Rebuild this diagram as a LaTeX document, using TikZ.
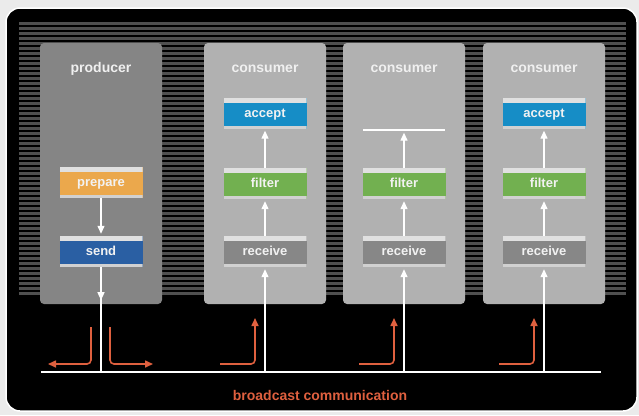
\documentclass[tikz,border=0pt]{standalone}
\usepackage{fontspec}
\setmainfont{Liberation Sans}
\usetikzlibrary{arrows.meta}
\definecolor{bgcol}{HTML}{EBEBEB}
\definecolor{stripecol}{HTML}{505050}
\definecolor{prodcol}{HTML}{858585}
\definecolor{conscol}{HTML}{B1B1B1}
\definecolor{prepcol}{HTML}{EBA84C}
\definecolor{sendcol}{HTML}{2A5FA3}
\definecolor{acccol}{HTML}{168DC6}
\definecolor{filtcol}{HTML}{72B050}
\definecolor{recvcol}{HTML}{878787}
\definecolor{castcol}{HTML}{DF603F}
\tikzstyle{panel} = [rounded corners=4pt, minimum width=122pt, minimum height=261pt, inner sep=0pt]
\tikzstyle{title} = [text=white!94!black, font=\bfseries\fontsize{14}{16}\selectfont]
\tikzstyle{stage} = [minimum width=83pt, minimum height=31pt, inner sep=0pt, text height=10pt, text depth=1.5pt,
    text=white!95!black, font=\bfseries\fontsize{13}{15}\selectfont,
    path picture={
        \fill[white!88!black] (path picture bounding box.north west) rectangle ([yshift=-5pt]path picture bounding box.north east);
        \fill[white!82!black] (path picture bounding box.south west) rectangle ([yshift=3pt]path picture bounding box.south east);
    }]
\tikzstyle{flow} = [draw=white, line width=1.3pt, -{Triangle[length=8pt,width=7pt]}, shorten >=2pt]
\tikzstyle{wire} = [draw=white, line width=1.3pt]
\tikzstyle{cast} = [draw=castcol, line width=1.6pt, rounded corners=4pt, -{Triangle[length=8pt,width=7pt]}]

\begin{document}
\begin{tikzpicture}[x=1pt,y=-1pt]
    \useasboundingbox (0,0) rectangle (639,415);
    \fill[bgcol] (0,0) rectangle (639,415);
    \draw[white, line width=1.5pt, fill=black, rounded corners=14pt] (6,8) rectangle (637,411);

    \foreach \y in {22,27,...,292}
    {
        \fill[stripecol] (19,\y) rectangle (626,\y+2.5);
    }

    \path (101,173.5) node (prod) [panel, fill=prodcol] {};
    \path (prod.north)+(0,26) node (prodtitle) [title] {producer};
    \path (101,182.5) node (prepare) [stage, fill=prepcol] {prepare};
    \path (101,251.5) node (send) [stage, fill=sendcol] {send};

    \foreach \i/\x in {1/265,2/404,3/544}
    {
        \path (\x,173.5) node (cons\i) [panel, fill=conscol] {};
        \path (cons\i.north)+(0,26) node (constitle\i) [title] {consumer};
        \path (\x,251.5) node (recv\i) [stage, fill=recvcol] {receive};
        \path (\x,183.5) node (filt\i) [stage, fill=filtcol] {filter};
        \coordinate (tap\i) at (\x,372);
    }
    \path (265,113) node (acc1) [stage, fill=acccol] {accept};
    \path (404,130) node (acc2) [minimum width=81pt, inner sep=0pt] {};
    \path (544,113) node (acc3) [stage, fill=acccol] {accept};
    \path[wire] (acc2.west) -- (acc2.east);

    % bus
    \coordinate (tap0) at (101,372);
    \coordinate (busl) at (41,372);
    \coordinate (busr) at (601,372);
    \path[wire] (busl) -- (busr);

    \path[flow] (prepare.south) -- (send.north);
    \path[wire] (send.south) -- (tap0);
    \path[flow, shorten >=0pt] (send.south) -- ([yshift=4pt]prod.south -| send.south);

    \foreach \i in {1,2,3}
    {
        \path[flow] (tap\i) -- (recv\i.south);
        \path[flow] (recv\i.north) -- (filt\i.south);
        \path[flow] (filt\i.north) -- (acc\i.south);
        \path[cast] ([xshift=-45pt,yshift=8pt]tap\i) -| ([xshift=-10pt,yshift=54pt]tap\i);
    }

    \coordinate (outl) at (48,364);
    \coordinate (outr) at (153,364);
    \path[cast] ([xshift=-10pt,yshift=45pt]tap0) |- (outl);
    \path[cast] ([xshift=9pt,yshift=45pt]tap0) |- (outr);

    \path (320,395) node (bcast) [text=castcol, font=\bfseries\fontsize{14}{16}\selectfont] {broadcast communication};
\end{tikzpicture}
\end{document}
